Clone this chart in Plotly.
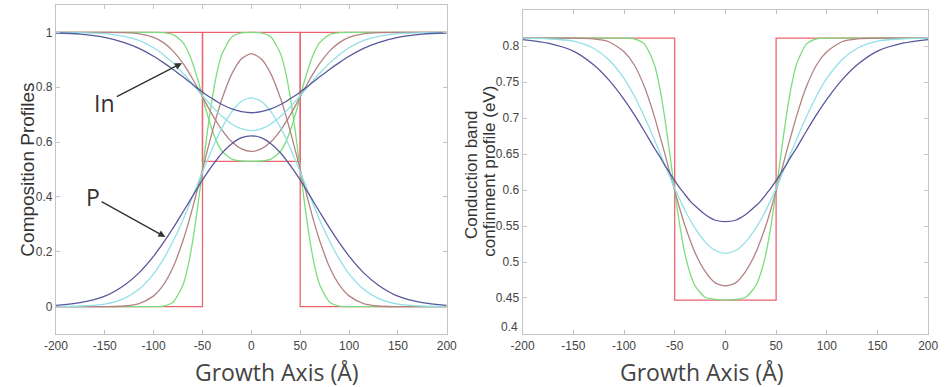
import plotly.graph_objects as go

# Growth-axis sample positions (Angstrom)
x_pts = [-200, -175, -150, -130, -115, -100, -90, -80, -70, -65, -60, -55, -50, -45, -40, -35, -30, -20, -10, 0,
         10, 20, 30, 35, 40, 45, 50, 55, 60, 65, 70, 80, 90, 100, 115, 130, 150, 175, 200]
x_step = [-200, -50, -50, 50, 50, 200]

# P composition profiles
p_red = [0, 0, 1, 1, 0, 0]
p_green = [0.000, 0.000, 0.000, 0.000, 0.000, 0.000, 0.002, 0.017, 0.079, 0.144, 0.240, 0.362, 0.500, 0.638, 0.760, 0.856, 0.921, 0.983, 0.998, 1.000,
           0.998, 0.983, 0.921, 0.856, 0.760, 0.638, 0.500, 0.362, 0.240, 0.144, 0.079, 0.017, 0.002, 0.000, 0.000, 0.000, 0.000, 0.000, 0.000]
p_brown = [0.000, 0.000, 0.000, 0.002, 0.011, 0.039, 0.079, 0.144, 0.240, 0.298, 0.362, 0.430, 0.500, 0.570, 0.637, 0.701, 0.758, 0.849, 0.904, 0.923,
           0.904, 0.849, 0.758, 0.701, 0.637, 0.570, 0.500, 0.430, 0.362, 0.298, 0.240, 0.144, 0.079, 0.039, 0.011, 0.002, 0.000, 0.000, 0.000]
p_cyan = [0.000, 0.002, 0.009, 0.030, 0.063, 0.119, 0.173, 0.239, 0.316, 0.359, 0.402, 0.447, 0.491, 0.534, 0.576, 0.616, 0.652, 0.711, 0.749, 0.761,
          0.749, 0.711, 0.652, 0.616, 0.576, 0.534, 0.491, 0.447, 0.402, 0.359, 0.316, 0.239, 0.173, 0.119, 0.063, 0.030, 0.009, 0.002, 0.000]
p_blue = [0.004, 0.014, 0.038, 0.078, 0.123, 0.184, 0.233, 0.287, 0.345, 0.374, 0.404, 0.433, 0.462, 0.489, 0.514, 0.538, 0.560, 0.594, 0.616, 0.623,
          0.616, 0.594, 0.560, 0.538, 0.514, 0.489, 0.462, 0.433, 0.404, 0.374, 0.345, 0.287, 0.233, 0.184, 0.123, 0.078, 0.038, 0.014, 0.004]

# In composition profiles
in_red = [1, 1, 0.53, 0.53, 1, 1]
in_green = [1.000, 1.000, 1.000, 1.000, 1.000, 1.000, 0.999, 0.992, 0.963, 0.932, 0.887, 0.830, 0.765, 0.700, 0.643, 0.598, 0.567, 0.538, 0.531, 0.530,
            0.531, 0.538, 0.567, 0.598, 0.643, 0.700, 0.765, 0.830, 0.887, 0.932, 0.963, 0.992, 0.999, 1.000, 1.000, 1.000, 1.000, 1.000, 1.000]
in_brown = [1.000, 1.000, 1.000, 0.999, 0.995, 0.982, 0.963, 0.932, 0.887, 0.860, 0.830, 0.798, 0.765, 0.732, 0.700, 0.671, 0.644, 0.601, 0.575, 0.566,
            0.575, 0.601, 0.644, 0.671, 0.700, 0.732, 0.765, 0.798, 0.830, 0.860, 0.887, 0.932, 0.963, 0.982, 0.995, 0.999, 1.000, 1.000, 1.000]
in_cyan = [1.000, 0.999, 0.996, 0.986, 0.971, 0.944, 0.919, 0.888, 0.851, 0.832, 0.811, 0.790, 0.769, 0.749, 0.729, 0.711, 0.694, 0.666, 0.648, 0.642,
           0.648, 0.666, 0.694, 0.711, 0.729, 0.749, 0.769, 0.790, 0.811, 0.832, 0.851, 0.888, 0.919, 0.944, 0.971, 0.986, 0.996, 0.999, 1.000]
in_blue = [0.998, 0.994, 0.982, 0.963, 0.942, 0.913, 0.890, 0.865, 0.838, 0.824, 0.810, 0.796, 0.783, 0.770, 0.759, 0.747, 0.737, 0.721, 0.711, 0.707,
           0.711, 0.721, 0.737, 0.747, 0.759, 0.770, 0.783, 0.796, 0.810, 0.824, 0.838, 0.865, 0.890, 0.913, 0.942, 0.963, 0.982, 0.994, 0.998]

# Conduction band confinement profiles (eV)
e_red = [0.811, 0.811, 0.447, 0.447, 0.811, 0.811]
e_green = [0.811, 0.811, 0.811, 0.811, 0.811, 0.811, 0.810, 0.803, 0.774, 0.744, 0.702, 0.652, 0.599, 0.551, 0.512, 0.485, 0.467, 0.451, 0.448, 0.447,
           0.448, 0.451, 0.467, 0.485, 0.512, 0.551, 0.599, 0.652, 0.702, 0.744, 0.774, 0.803, 0.810, 0.811, 0.811, 0.811, 0.811, 0.811, 0.811]
e_brown = [0.811, 0.811, 0.811, 0.810, 0.806, 0.792, 0.774, 0.744, 0.702, 0.677, 0.652, 0.625, 0.599, 0.574, 0.551, 0.531, 0.513, 0.487, 0.471, 0.467,
           0.471, 0.487, 0.513, 0.531, 0.551, 0.574, 0.599, 0.625, 0.652, 0.677, 0.702, 0.744, 0.774, 0.792, 0.806, 0.810, 0.811, 0.811, 0.811]
e_cyan = [0.811, 0.810, 0.807, 0.797, 0.781, 0.755, 0.731, 0.702, 0.670, 0.653, 0.636, 0.619, 0.602, 0.587, 0.572, 0.559, 0.547, 0.528, 0.516, 0.512,
          0.516, 0.528, 0.547, 0.559, 0.572, 0.587, 0.602, 0.619, 0.636, 0.653, 0.670, 0.702, 0.731, 0.755, 0.781, 0.797, 0.807, 0.810, 0.811]
e_blue = [0.809, 0.804, 0.793, 0.774, 0.753, 0.726, 0.705, 0.682, 0.658, 0.647, 0.635, 0.624, 0.613, 0.603, 0.594, 0.585, 0.578, 0.566, 0.558, 0.556,
          0.558, 0.566, 0.578, 0.585, 0.594, 0.603, 0.613, 0.624, 0.635, 0.647, 0.658, 0.682, 0.705, 0.726, 0.753, 0.774, 0.793, 0.804, 0.809]

x_ticks = [-200, -150, -100, -50, 0, 50, 100, 150, 200]
x_tick_labels = ["-200", "-150", "-100", "-50", "0", "50", "100", "150", "200"]
left_y_ticks = [0, 0.2, 0.4, 0.6, 0.8, 1]
left_y_labels = ["0", "0.2", "0.4", "0.6", "0.8", "1"]
right_y_ticks = [0.4, 0.45, 0.5, 0.55, 0.6, 0.65, 0.7, 0.75, 0.8]
right_y_labels = ["0.4", "0.45", "0.5", "0.55", "0.6", "0.65", "0.7", "0.75", "0.8"]

C_RED = "#ea6470"
C_GREEN = "#7ddc7d"
C_BROWN = "#b48282"
C_CYAN = "#92e0e8"
C_BLUE = "#58589c"

fig = go.Figure()

def add_line(x, y, color, xa, ya, smooth=True):
    fig.add_trace(go.Scatter(
        x=x, y=y, mode="lines", xaxis=xa, yaxis=ya, showlegend=False, hoverinfo="skip",
        line=dict(color=color, width=1.3, shape="spline" if smooth else "linear", smoothing=0.7 if smooth else None),
    ))

# Left panel
add_line(x_step, p_red, C_RED, "x", "y", smooth=False)
add_line(x_step, in_red, C_RED, "x", "y", smooth=False)
for yv, c in [(p_green, C_GREEN), (in_green, C_GREEN), (p_brown, C_BROWN), (in_brown, C_BROWN),
              (p_cyan, C_CYAN), (in_cyan, C_CYAN), (p_blue, C_BLUE), (in_blue, C_BLUE)]:
    add_line(x_pts, yv, c, "x", "y")

# Right panel
add_line(x_step, e_red, C_RED, "x2", "y2", smooth=False)
for yv, c in [(e_green, C_GREEN), (e_brown, C_BROWN), (e_cyan, C_CYAN), (e_blue, C_BLUE)]:
    add_line(x_pts, yv, c, "x2", "y2")

tick_font = dict(family="Liberation Sans, Arial, sans-serif", size=12, color="#444444")
axis_common = dict(
    showline=True, linecolor="#c4c4c4", linewidth=1, mirror="ticks",
    ticks="inside", ticklen=4, tickcolor="#c4c4c4",
    showgrid=False, zeroline=False, tickfont=tick_font,
)

# the lowest right-hand tick label is drawn as an annotation nudged up, so it
# does not collide with the "-200" label below it
right_y_labels_axis = [""] + right_y_labels[1:]

fig.update_layout(
    width=947, height=387,
    margin=dict(l=0, r=0, t=0, b=0),
    paper_bgcolor="white", plot_bgcolor="white",
    xaxis=dict(domain=[0.0475, 0.470], range=[-200, 200], tickvals=x_ticks, ticktext=x_tick_labels,
               ticklabelstandoff=1, anchor="y", **axis_common),
    yaxis=dict(domain=[0.137, 0.987], range=[-0.1, 1.1], tickvals=left_y_ticks, ticktext=left_y_labels, anchor="x", **axis_common),
    xaxis2=dict(domain=[0.552, 0.9905], range=[-200, 200], tickvals=x_ticks, ticktext=x_tick_labels,
                ticklabelstandoff=1, anchor="y2", **axis_common),
    yaxis2=dict(domain=[0.137, 0.974], range=[0.4, 0.85], tickvals=right_y_ticks, ticktext=right_y_labels_axis, anchor="x2", **axis_common),
)

title_font = dict(family="Open Sans, Lato, sans-serif", size=23, color="#444444")
ytitle_font = dict(family="Liberation Sans, Arial, sans-serif", size=19, color="#333333")
ytitle2_font = dict(family="Liberation Sans, Arial, sans-serif", size=17, color="#333333")
label_font = dict(family="Open Sans, Lato, sans-serif", size=23, color="#333333")

annotations = [
    dict(text="Growth Axis (Å)", x=271 / 947, y=1 - 372 / 387, xref="paper", yref="paper",
         showarrow=False, font=title_font, xanchor="center", yanchor="middle"),
    dict(text="Growth Axis (Å)", x=706 / 947, y=1 - 372 / 387, xref="paper", yref="paper",
         showarrow=False, font=title_font, xanchor="center", yanchor="middle"),
    dict(text="Composition Profiles", x=15 / 947, y=1 - 170 / 387, xref="paper", yref="paper",
         showarrow=False, textangle=-90, font=ytitle_font, xanchor="center", yanchor="middle"),
    dict(text="Conduction band", x=470 / 947, y=1 - 175 / 387, xref="paper", yref="paper",
         showarrow=False, textangle=-90, font=ytitle2_font, xanchor="center", yanchor="middle"),
    dict(text="confinment profile (eV)", x=488 / 947, y=1 - 171 / 387, xref="paper", yref="paper",
         showarrow=False, textangle=-90, font=ytitle2_font, xanchor="center", yanchor="middle"),
    dict(text=right_y_labels[0], x=520 / 947, y=1 - 327 / 387, xref="paper", yref="paper",
         showarrow=False, font=tick_font, xanchor="right", yanchor="middle"),
    # "In" label with arrow
    dict(text="In", x=-71, y=0.888, ax=-150, ay=0.743, xref="x", yref="y", axref="x", ayref="y",
         showarrow=True, arrowhead=2, arrowsize=1, arrowwidth=1.4, arrowcolor="#333333", font=label_font),
    dict(text="P", x=-88, y=0.254, ax=-162, ay=0.40, xref="x", yref="y", axref="x", ayref="y",
         showarrow=True, arrowhead=2, arrowsize=1, arrowwidth=1.4, arrowcolor="#333333", font=label_font),
]
fig.update_layout(annotations=annotations)

fig.write_html("out.html")
